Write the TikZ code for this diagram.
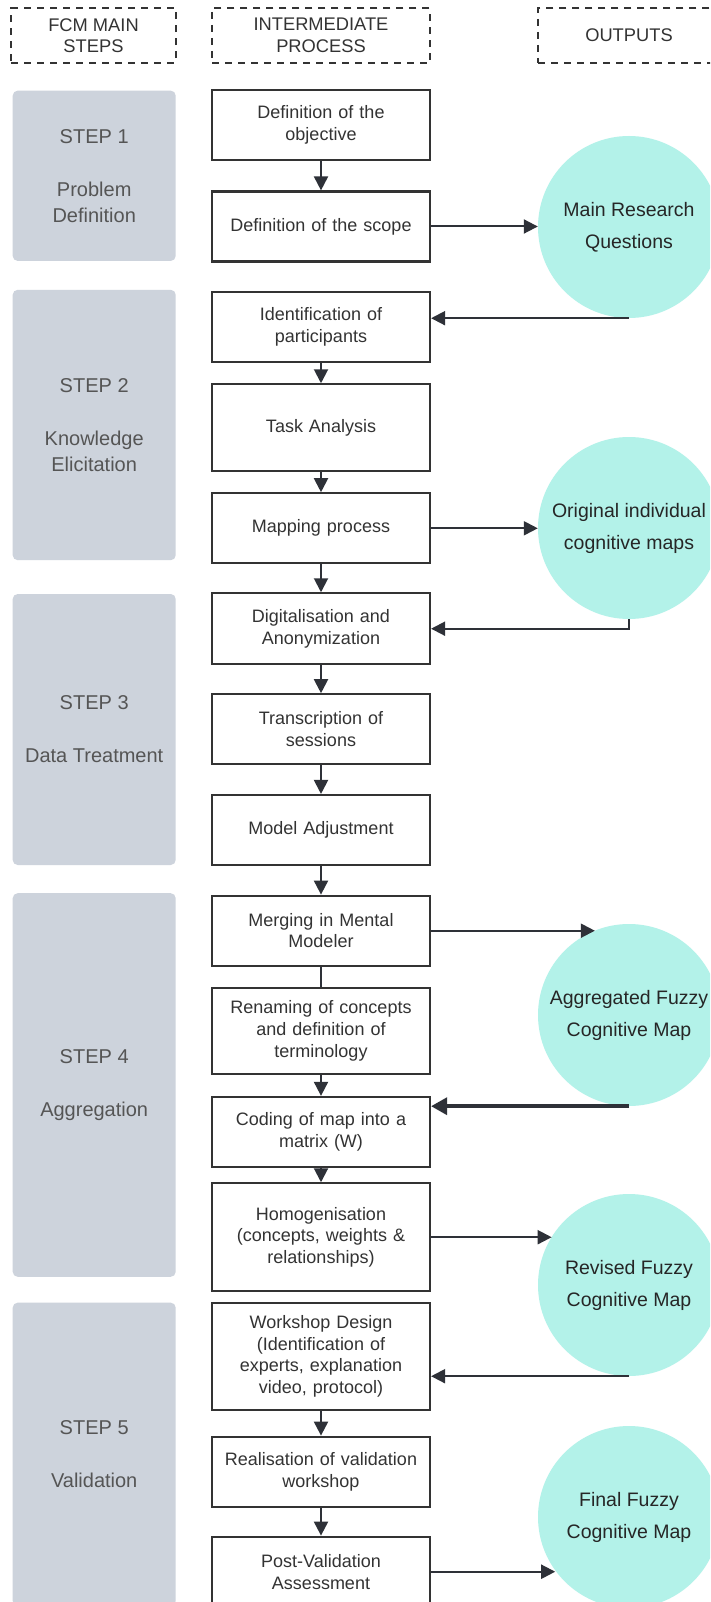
\documentclass[tikz,border=0pt]{standalone}
\usepackage{fontspec}
\setmainfont{Liberation Sans}
\usetikzlibrary{arrows.meta}

\definecolor{stepgray}{HTML}{CDD3DC}
\definecolor{mint}{HTML}{B3F2E9}
\definecolor{boxline}{HTML}{333333}
\definecolor{steptext}{HTML}{555555}
\definecolor{proctext}{HTML}{333333}
\definecolor{arrowc}{HTML}{2E3138}

\tikzset{
  proc/.style={draw=boxline, line width=2.2pt, fill=white, minimum width=218pt,
    text width=208pt, align=center, inner sep=0pt, text=proctext,
    font=\fontsize{18}{21.7}\selectfont},
  stepbox/.style={fill=stepgray, rounded corners=5pt, minimum width=163pt,
    inner sep=0pt, text=steptext, align=center,
    font=\fontsize{20}{26}\selectfont},
  outbubble/.style={circle, fill=mint, minimum size=182pt, inner sep=0pt,
    align=center, text=black!85, font=\fontsize{19.5}{32}\selectfont},
  hdr/.style={draw=boxline, line width=2pt, dash pattern=on 7pt off 6pt,
    minimum height=54.4pt, inner sep=0pt, align=center, text=proctext,
    font=\fontsize{18.3}{21.5}\selectfont},
  arr/.style={draw=arrowc, line width=2pt, -{Triangle[length=14pt,width=14pt]}},
  arrthick/.style={draw=arrowc, line width=3.5pt, -{Triangle[length=16pt,width=17pt]}},
  conn/.style={draw=arrowc, line width=2pt},
}

\begin{document}
\begin{tikzpicture}[x=1pt, y=-1pt]
\useasboundingbox (0,0) rectangle (710,1602);
\clip (0,0) rectangle (710,1602);
\fill[white] (0,0) rectangle (710,1602);

% column headers
\node[hdr, minimum width=164.4pt] (h1) at (93.5,35.5) {FCM MAIN\\STEPS};
\node[hdr, minimum width=218pt] (h2) at (321,35.5) {INTERMEDIATE\\PROCESS};
\node[hdr, minimum width=182pt] (h3) at (629,35.5) {OUTPUTS};

% main steps
\node[stepbox, minimum height=170.3pt] (s1) at (94.2,175.8) {STEP 1\\[27pt]Problem\\Definition};
\node[stepbox, minimum height=270.4pt] (s2) at (94.2,425) {STEP 2\\[27pt]Knowledge\\Elicitation};
\node[stepbox, minimum height=271pt] (s3) at (94.2,729.5) {STEP 3\\[27pt]Data Treatment};
\node[stepbox, minimum height=383.6pt] (s4) at (94.2,1085) {STEP 4\\[27pt]Aggregation};
\node[stepbox, minimum height=303.3pt] (s5) at (94.2,1454.3) {STEP 5\\[27pt]Validation};

% intermediate process
\node[proc, minimum height=70pt] (obj) at (321,125) {Definition of the\\objective};
\node[proc, minimum height=70pt] (scope) at (321,226.5) {Definition of the scope};
\node[proc, minimum height=70.6pt] (ident) at (321,327) {Identification of\\participants};
\node[proc, minimum height=86.7pt] (task) at (321,427.7) {Task Analysis};
\node[proc, minimum height=70pt] (mapp) at (321,528.3) {Mapping process};
\node[proc, minimum height=70.7pt] (digi) at (321,628.7) {Digitalisation and\\Anonymization};
\node[proc, minimum height=70pt] (trans) at (321,729.3) {Transcription of\\sessions};
\node[proc, minimum height=70.3pt] (model) at (321,830.2) {Model Adjustment};
\node[proc, minimum height=70pt] (merge) at (321,930.7) {Merging in Mental\\Modeler};
\node[proc, minimum height=86.6pt] (rename) at (321,1031) {Renaming of concepts\\and definition of\\terminology};
\node[proc, minimum height=69.7pt] (coding) at (321,1131.8) {Coding of map into a\\matrix (W)};
\node[proc, minimum height=107.7pt] (homog) at (321,1237.2) {Homogenisation\\(concepts, weights \&\\relationships)};
\node[proc, minimum height=107.3pt] (work) at (321,1356.3) {Workshop Design\\(Identification of\\experts, explanation\\video, protocol)};
\node[proc, minimum height=70pt] (real) at (321,1471.7) {Realisation of validation\\workshop};
\node[proc, minimum height=70pt] (post) at (321,1571.7) {Post-Validation\\Assessment};

% outputs
\node[outbubble] (c1) at (629,227) {Main Research\\Questions};
\node[outbubble] (c2) at (629,528) {Original individual\\cognitive maps};
\node[outbubble] (c3) at (629,1015) {Aggregated Fuzzy\\Cognitive Map};
\node[outbubble] (c4) at (629,1285) {Revised Fuzzy\\Cognitive Map};
\node[outbubble] (c5) at (629,1517) {Final Fuzzy\\Cognitive Map};

% flow between process boxes
\draw[arr] (obj) -- (scope);
\draw[arr] (ident) -- (task);
\draw[arr] (task) -- (mapp);
\draw[arr] (mapp) -- (digi);
\draw[arr] (digi) -- (trans);
\draw[arr] (trans) -- (model);
\draw[arr] (model) -- (merge);
\draw[conn] (merge) -- (rename);
\draw[arr] (rename) -- (coding);
\draw[arr] (coding) -- (homog);
\draw[arr] (work) -- (real);
\draw[arr] (real) -- (post);

% links to and from the outputs
\draw[arr] (scope.east) -- (scope.east -| c1.west);
\draw[arr] (c1.south) -- (c1.south -| ident.east);
\draw[arr] (mapp.east) -- (mapp.east -| c2.west);
\draw[arr] (c2.south) |- (digi.east);
\draw[arr] (merge.east) -- (merge.east -| c3.112);
\draw[arrthick] (c3.south) -- (c3.south -| coding.east);
\draw[arr] (homog.east) -- (homog.east -| c4.148.4);
\draw[arr] (c4.south) -- (c4.south -| work.east);
\draw[arr] (post.east) -- (post.east -| c5.216.9);
\end{tikzpicture}
\end{document}
